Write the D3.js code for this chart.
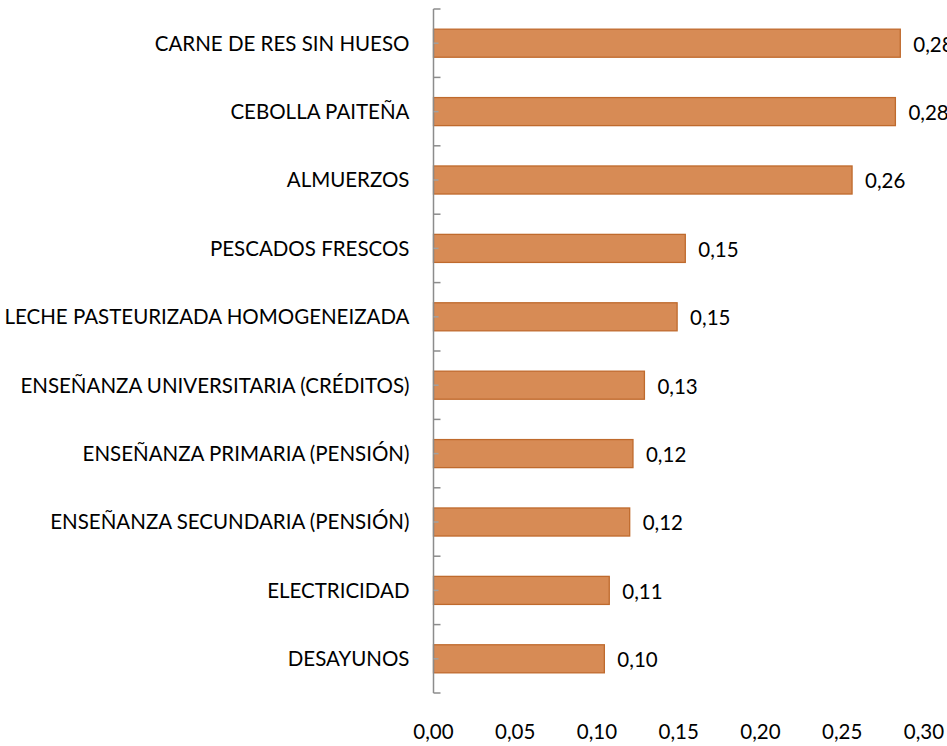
<!DOCTYPE html>
<html>
<head>
<meta charset="utf-8">
<script src="https://cdn.jsdelivr.net/npm/d3@7"></script>
<style>
  html, body { margin: 0; padding: 0; background: #ffffff; }
  svg { display: block; }
  text { font-family: Lato, "Open Sans", sans-serif; fill: #000; }
</style>
</head>
<body>
<svg id="chart" width="947" height="746"></svg>
<script>
const categories = [
  "CARNE DE RES SIN HUESO",
  "CEBOLLA PAITEÑA",
  "ALMUERZOS",
  "PESCADOS FRESCOS",
  "LECHE PASTEURIZADA HOMOGENEIZADA",
  "ENSEÑANZA UNIVERSITARIA (CRÉDITOS)",
  "ENSEÑANZA PRIMARIA (PENSIÓN)",
  "ENSEÑANZA SECUNDARIA (PENSIÓN)",
  "ELECTRICIDAD",
  "DESAYUNOS"
];
const values = [0.2855, 0.2825, 0.256, 0.154, 0.149, 0.129, 0.122, 0.120, 0.1075, 0.1045];
const valueLabels = ["0,28", "0,28", "0,26", "0,15", "0,15", "0,13", "0,12", "0,12", "0,11", "0,10"];
const xTicks = [0, 0.05, 0.10, 0.15, 0.20, 0.25, 0.30];
const xTickLabels = ["0,00", "0,05", "0,10", "0,15", "0,20", "0,25", "0,30"];

const svg = d3.select("#chart");
const axisX = 433.5;
const x = d3.scaleLinear().domain([0, 0.30]).range([axisX, 924]);
const y = d3.scaleBand().domain(categories).range([9, 693]).paddingInner(0.59).paddingOuter(0.295);
const band = d3.scaleBand().domain(categories).range([9, 693]);

const fontSize = 20.5;
const capHalf = 7.3;

// bars
svg.append("g").selectAll("rect").data(categories).join("rect")
  .attr("x", x(0))
  .attr("y", d => y(d))
  .attr("width", (d, i) => x(values[i]) - x(0))
  .attr("height", y.bandwidth())
  .attr("fill", "#D78B55")
  .attr("stroke", "#BF6A2D")
  .attr("stroke-width", 1.3);

// axis line and ticks
const axisG = svg.append("g").attr("stroke", "#8C8C8C").attr("stroke-width", 1.5);
axisG.append("line").attr("x1", axisX).attr("x2", axisX).attr("y1", 9).attr("y2", 693);
const bounds = categories.map(c => band(c)).concat([693]);
axisG.selectAll("line.b").data(bounds).join("line").attr("class", "b")
  .attr("x1", axisX).attr("x2", axisX + 7).attr("y1", d => d).attr("y2", d => d);
axisG.selectAll("line.c").data(categories).join("line").attr("class", "c")
  .attr("x1", axisX).attr("x2", axisX + 5)
  .attr("y1", d => band(d) + band.bandwidth() / 2)
  .attr("y2", d => band(d) + band.bandwidth() / 2)
  .attr("stroke", "#A0A0A0");

// category labels
svg.append("g").selectAll("text").data(categories).join("text")
  .attr("x", axisX - 24)
  .attr("y", d => band(d) + band.bandwidth() / 2 + capHalf)
  .attr("text-anchor", "end")
  .attr("font-size", fontSize)
  .text(d => d);

// value labels
svg.append("g").selectAll("text").data(categories).join("text")
  .attr("x", (d, i) => x(values[i]) + 13)
  .attr("y", d => band(d) + band.bandwidth() / 2 + capHalf + 1)
  .attr("font-size", fontSize)
  .text((d, i) => valueLabels[i]);

// x tick labels
svg.append("g").selectAll("text").data(xTicks).join("text")
  .attr("x", d => x(d))
  .attr("y", 739)
  .attr("text-anchor", "middle")
  .attr("font-size", fontSize)
  .text((d, i) => xTickLabels[i]);
</script>
</body>
</html>
